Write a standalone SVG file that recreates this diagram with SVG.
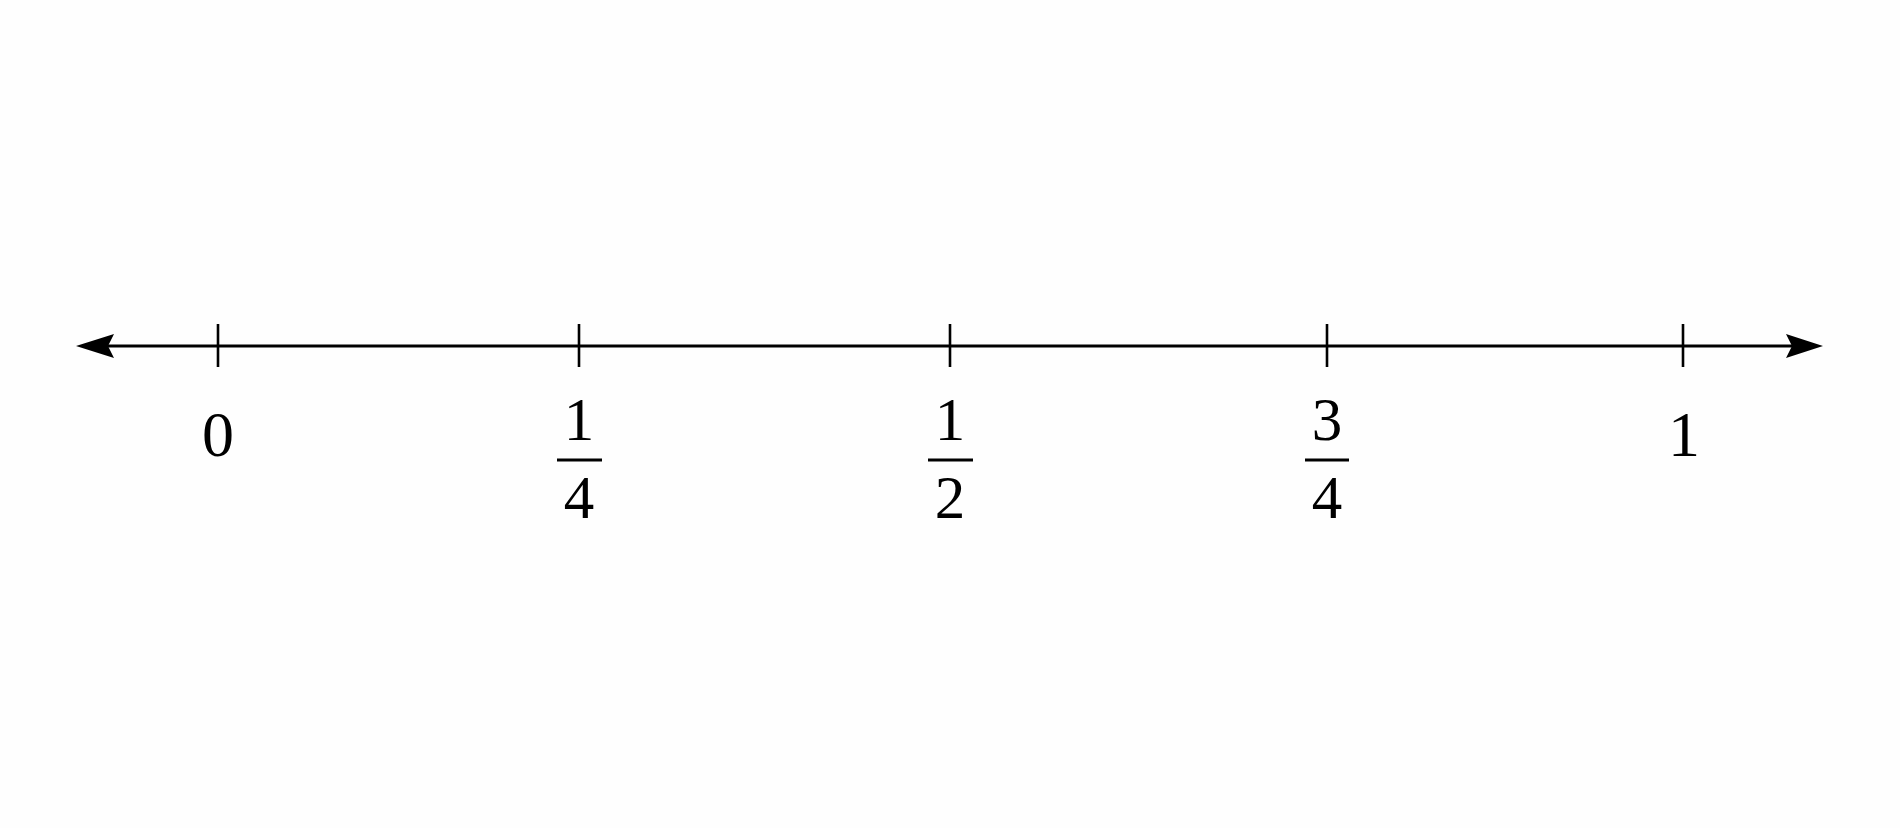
<svg xmlns="http://www.w3.org/2000/svg" width="1900" height="828" viewBox="0 0 1900 828">
<style>
.axis{stroke:#000;stroke-width:3.2;fill:none}
.tick{stroke:#000;stroke-width:2.6}
.bar{stroke:#000;stroke-width:3}
.lbl{font-family:"Liberation Serif","DejaVu Serif",serif;font-size:64px;fill:#000;text-anchor:middle}
.fr{font-size:61px}
.head{fill:#000}
</style>
<rect width="1900" height="828" fill="#fefefe"/>
<g id="connectors">
<line class="axis" x1="100" y1="346" x2="1800" y2="346"/>
<path class="head" d="M76,346 L114,334 L108,346 L114,358 Z"/>
<path class="head" d="M1823,346 L1786,334 L1792,346 L1786,358 Z"/>
</g>
<g id="tick-0">
<line class="tick" x1="218" y1="324" x2="218" y2="367"/>
<text class="lbl" x="218" y="456">0</text>
</g>
<g id="tick-1-4">
<line class="tick" x1="579" y1="324" x2="579" y2="367"/>
<text class="lbl fr" x="579" y="440">1</text>
<line class="bar" x1="557" y1="460" x2="602" y2="460"/>
<text class="lbl fr" x="579" y="518">4</text>
</g>
<g id="tick-1-2">
<line class="tick" x1="950" y1="324" x2="950" y2="367"/>
<text class="lbl fr" x="950" y="440">1</text>
<line class="bar" x1="928" y1="460" x2="973" y2="460"/>
<text class="lbl fr" x="950" y="518">2</text>
</g>
<g id="tick-3-4">
<line class="tick" x1="1327" y1="324" x2="1327" y2="367"/>
<text class="lbl fr" x="1327" y="440">3</text>
<line class="bar" x1="1305" y1="460" x2="1349" y2="460"/>
<text class="lbl fr" x="1327" y="518">4</text>
</g>
<g id="tick-1">
<line class="tick" x1="1683" y1="324" x2="1683" y2="367"/>
<text class="lbl" x="1684" y="456">1</text>
</g>
</svg>
